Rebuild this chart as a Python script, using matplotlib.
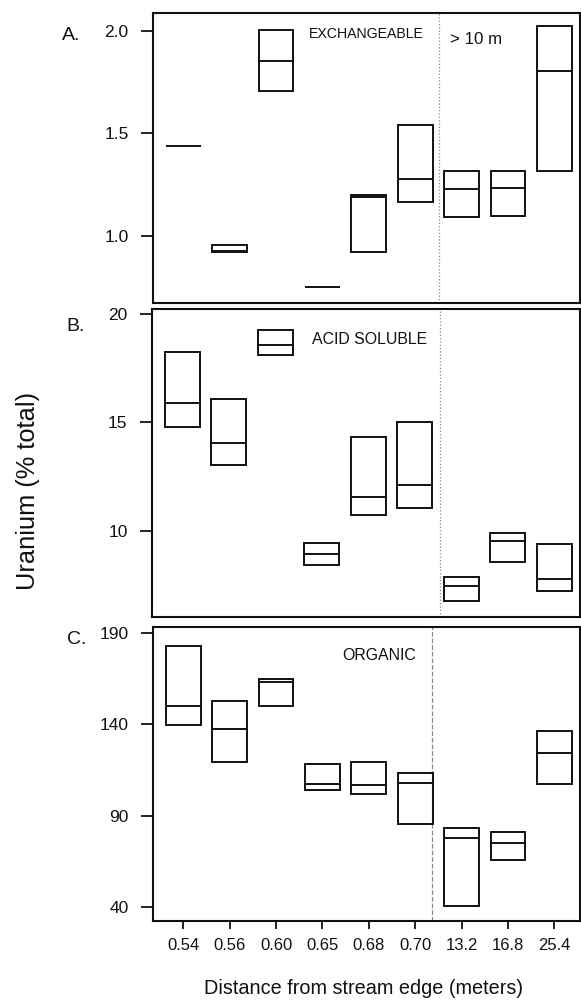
import matplotlib
matplotlib.use("Agg")
import matplotlib.pyplot as plt
from matplotlib.patches import Rectangle

plt.rcParams['font.family'] = ['Liberation Sans', 'DejaVu Sans']

# ---------------- data ----------------
categories = ["0.54", "0.56", "0.60", "0.65", "0.68", "0.70", "13.2", "16.8", "25.4"]

exch_q1 = [1.44, 0.92, 1.71, 0.75, 0.92, 1.165, 1.093, 1.095, 1.318]
exch_med = [1.44, 0.925, 1.855, 0.75, 1.19, 1.276, 1.229, 1.232, 1.808]
exch_q3 = [1.44, 0.955, 2.007, 0.75, 1.201, 1.544, 1.315, 1.315, 2.028]

acid_q1 = [14.77, 13.03, 18.12, 8.42, 10.71, 11.05, 6.76, 8.58, 7.22]
acid_med = [15.89, 14.05, 18.58, 8.94, 11.57, 12.11, 7.46, 9.54, 7.77]
acid_q3 = [18.26, 16.09, 19.26, 9.45, 14.31, 15.04, 7.88, 9.88, 9.41]

org_q1 = [139.6, 119.2, 150.3, 103.9, 101.9, 85.3, 40.4, 66.0, 107.4]
org_med = [150.0, 137.3, 163.2, 107.6, 107.0, 107.9, 78.0, 75.3, 124.3]
org_q3 = [182.9, 152.8, 165.0, 118.1, 119.6, 113.6, 83.3, 80.9, 136.6]

exch_ticks = [1.0, 1.5, 2.0]
exch_ticklabels = ["1.0", "1.5", "2.0"]
acid_ticks = [10, 15, 20]
org_ticks = [40, 90, 140, 190]

# ---------------- layout ----------------
W, H = 581, 1001
fig = plt.figure(figsize=(W / 100, H / 100), dpi=100)


def ax_at(left, top, right, bottom):
    return fig.add_axes([left / W, 1 - bottom / H, (right - left) / W, (bottom - top) / H])


axA = ax_at(153, 13, 580, 303)
axB = ax_at(152, 309, 580, 617)
axC = ax_at(153, 627, 580, 921)

XL = (-0.653, 8.55)
BW = 0.75
LW = 1.4


def draw_boxes(ax, q1, med, q3):
    for i, (a, m, b) in enumerate(zip(q1, med, q3)):
        if b - a > 0:
            ax.add_patch(Rectangle((i - BW / 2, a), BW, b - a, fill=False,
                                   ec='#111111', lw=LW, zorder=3))
        ax.hlines(m, i - BW / 2, i + BW / 2, color='#111111', lw=LW, zorder=3)


panels = [
    (axA, exch_q1, exch_med, exch_q3, (0.67, 2.09), exch_ticks, exch_ticklabels, 5.51, ':'),
    (axB, acid_q1, acid_med, acid_q3, (6.02, 20.24), acid_ticks, [str(t) for t in acid_ticks], 5.53, ':'),
    (axC, org_q1, org_med, org_q3, (32.4, 193.3), org_ticks, [str(t) for t in org_ticks], 5.35, '--'),
]

for ax, q1, med, q3, yl, yt, ytl, dx, ls in panels:
    draw_boxes(ax, q1, med, q3)
    ax.set_xlim(*XL)
    ax.set_ylim(*yl)
    ax.set_yticks(yt)
    ax.set_yticklabels(ytl)
    ax.axvline(dx, color='#888888', lw=0.9, ls=ls, zorder=1)
    for s in ax.spines.values():
        s.set_linewidth(1.5)
        s.set_color('#111111')
    ax.tick_params(axis='y', direction='out', length=8.6, width=1.3, pad=9, labelsize=12.5,
                   colors='#111111')
    ax.tick_params(axis='x', direction='out', length=5.5, width=1.3, pad=7, labelsize=12,
                   colors='#111111')

for ax in (axA, axB):
    ax.set_xticks([])

axC.set_xticks(range(len(categories)))
axC.set_xticklabels(categories)

TC = '#111111'
# in-panel texts
fig.text(309 / W, 1 - 34.5 / H, "EXCHANGEABLE", ha='left', va='center', fontsize=10.2, color=TC)
fig.text(450 / W, 1 - 39 / H, "> 10 m", ha='left', va='center', fontsize=12.2, color=TC)
fig.text(312 / W, 1 - 339 / H, "ACID SOLUBLE", ha='left', va='center', fontsize=11.4, color=TC)
fig.text(342 / W, 1 - 655 / H, "ORGANIC", ha='left', va='center', fontsize=11.4, color=TC)

# panel letters
fig.text(62 / W, 1 - 35 / H, "A.", ha='left', va='center', fontsize=14, color=TC)
fig.text(66 / W, 1 - 326 / H, "B.", ha='left', va='center', fontsize=14, color=TC)
fig.text(67.5 / W, 1 - 639 / H, "C.", ha='left', va='center', fontsize=14, color=TC)

# axis labels
fig.text(28 / W, 1 - 491 / H, "Uranium (% total)", rotation=90, ha='center', va='center',
         fontsize=18.3, color=TC)
fig.text(364 / W, 1 - 988 / H, "Distance from stream edge (meters)", ha='center', va='center',
         fontsize=14.3, color=TC)

fig.savefig("out.png", dpi=100)
